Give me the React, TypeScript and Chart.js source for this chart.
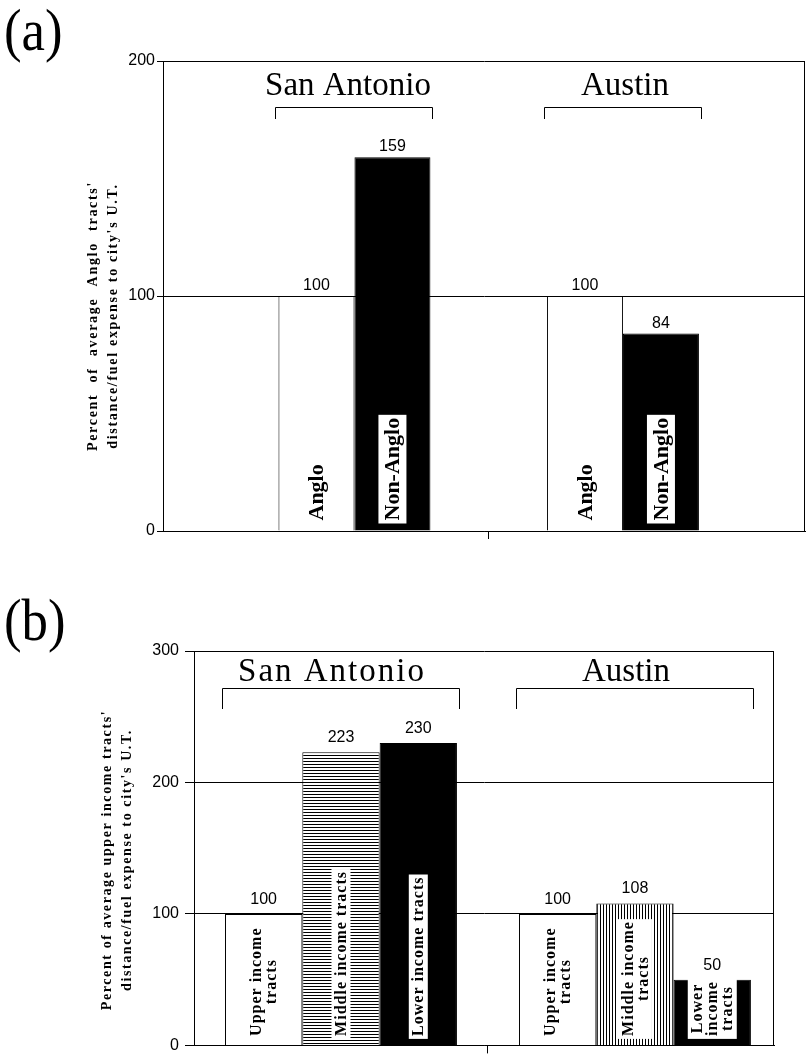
import React, { useEffect, useRef } from 'react';
import { Chart, registerables } from 'chart.js';

Chart.register(...registerables);

// ---------- Panel (a) data ----------
const citiesA = ['San Antonio', 'Austin'];
const seriesNamesA = ['Anglo', 'Non-Anglo'];
const angloValues = [100, 100];
const nonAngloValues = [159, 84];
const yTicksA = [0, 100, 200];
const yTitleA = ["Percent of average Anglo tracts'", "distance/fuel expense to city's U.T."];
const angloBarText = [['Anglo'], ['Anglo']];
const nonAngloBarText = [['Non-Anglo'], ['Non-Anglo']];

// ---------- Panel (b) data ----------
const citiesB = ['San Antonio', 'Austin'];
const seriesNamesB = ['Upper income tracts', 'Middle income tracts', 'Lower income tracts'];
const upperValues = [100, 100];
const middleValues = [223, 108];
const lowerValues = [230, 50];
const yTicksB = [0, 100, 200, 300];
const yTitleB = ["Percent of average upper income tracts'", "distance/fuel expense to city's U.T."];
const upperBarText = [['Upper income', 'tracts'], ['Upper income', 'tracts']];
const middleBarText = [['Middle income tracts'], ['Middle income', 'tracts']];
const lowerBarText = [['Lower income tracts'], ['Lower', 'income', 'tracts']];

const SERIF = '"Liberation Serif", "Times New Roman", serif';
const SANS = '"Liberation Sans", Arial, sans-serif';

function makePattern(horizontal: boolean): CanvasPattern | string {
  const c = document.createElement('canvas');
  c.width = 3;
  c.height = 3;
  const g = c.getContext('2d');
  if (!g) return '#888';
  g.fillStyle = '#fff';
  g.fillRect(0, 0, 3, 3);
  g.fillStyle = '#000';
  if (horizontal) g.fillRect(0, 0, 3, 1);
  else g.fillRect(0, 0, 1, 3);
  return g.createPattern(c, 'repeat') || '#888';
}

type BarTextSpec = { lines: string[][]; boxed: boolean };
type DecorCfg = {
  panel: string;
  panelBaseline: number;
  yTitle: string[];
  yTitleX: number[];
  yTitleCY: number;
  yTitleFont: string;
  yTitleSpacing: number[];
  yTitleWordSpacing: number[];
  cities: string[];
  cityFont: string;
  citySpacing: number[];
  cityDx: number[];
  cityBaseline: number;
  bracketTop: number;
  bracketBottom: number;
  valueFont: string;
  valueGap: number;
  barText: BarTextSpec[];
  barFont: string;
  barSpacing: number;
  barLineH: number;
  barGap: number;
};

function makeDecor(cfg: DecorCfg) {
  return {
    id: 'decor',
    afterDatasetsDraw(chart: any) {
      const ctx: CanvasRenderingContext2D = chart.ctx;
      const area = chart.chartArea;
      ctx.save();
      ctx.strokeStyle = '#000';
      ctx.fillStyle = '#000';
      ctx.lineWidth = 1;

      // right border of the plot frame
      const rx = Math.round(area.right) - 0.5;
      ctx.beginPath();
      ctx.moveTo(rx, area.top);
      ctx.lineTo(rx, area.bottom);
      ctx.stroke();

      // panel label
      ctx.save();
      ctx.translate(4, cfg.panelBaseline);
      ctx.scale(0.88, 1);
      ctx.font = `60px ${SERIF}`;
      ctx.textAlign = 'left';
      ctx.textBaseline = 'alphabetic';
      ctx.fillText(cfg.panel, 0, 0);
      ctx.restore();

      // y-axis title (two rotated lines)
      cfg.yTitle.forEach((line, i) => {
        ctx.save();
        ctx.font = cfg.yTitleFont;
        (ctx as any).letterSpacing = `${cfg.yTitleSpacing[i]}px`;
        (ctx as any).wordSpacing = `${cfg.yTitleWordSpacing[i]}px`;
        ctx.translate(cfg.yTitleX[i], cfg.yTitleCY);
        ctx.rotate(-Math.PI / 2);
        ctx.textAlign = 'center';
        ctx.textBaseline = 'middle';
        ctx.fillText(line, 0, 0);
        ctx.restore();
      });

      const metas = chart.data.datasets.map((_: any, d: number) => chart.getDatasetMeta(d));

      // city names with brackets
      cfg.cities.forEach((city, i) => {
        const first = metas[0].data[i];
        const last = metas[metas.length - 1].data[i];
        const l = Math.round(first.x - first.width / 2) - 3 + 0.5;
        const r = Math.round(last.x + last.width / 2) + 2 + 0.5;
        ctx.beginPath();
        ctx.moveTo(l, cfg.bracketBottom);
        ctx.lineTo(l, cfg.bracketTop);
        ctx.lineTo(r, cfg.bracketTop);
        ctx.lineTo(r, cfg.bracketBottom);
        ctx.stroke();
        ctx.save();
        ctx.font = cfg.cityFont;
        (ctx as any).letterSpacing = `${cfg.citySpacing[i]}px`;
        ctx.textAlign = 'center';
        ctx.textBaseline = 'alphabetic';
        ctx.fillText(city, (l + r) / 2 + cfg.citySpacing[i] / 2 + cfg.cityDx[i], cfg.cityBaseline);
        ctx.restore();
      });

      // value labels above bars
      ctx.font = cfg.valueFont;
      ctx.textAlign = 'center';
      ctx.textBaseline = 'alphabetic';
      metas.forEach((meta: any, d: number) => {
        meta.data.forEach((el: any, i: number) => {
          const v = chart.data.datasets[d].data[i].y;
          ctx.fillText(String(v), el.x, el.y - cfg.valueGap);
        });
      });

      // rotated labels inside bars
      metas.forEach((meta: any, d: number) => {
        const spec = cfg.barText[d];
        meta.data.forEach((el: any, i: number) => {
          const lines = spec.lines[i];
          ctx.save();
          ctx.font = cfg.barFont;
          (ctx as any).letterSpacing = `${cfg.barSpacing}px`;
          const maxW = Math.max(...lines.map((t) => ctx.measureText(t).width)) - cfg.barSpacing;
          const blockH = lines.length * cfg.barLineH;
          const cy = el.base - cfg.barGap - maxW / 2;
          ctx.translate(el.x, cy);
          ctx.rotate(-Math.PI / 2);
          if (spec.boxed) {
            ctx.fillStyle = '#fff';
            ctx.fillRect(-maxW / 2 - 3, -blockH / 2 - 2, maxW + 6, blockH + 4);
          }
          ctx.fillStyle = '#000';
          ctx.textAlign = 'center';
          ctx.textBaseline = 'middle';
          lines.forEach((t, k) => {
            ctx.fillText(t, cfg.barSpacing / 2, -blockH / 2 + cfg.barLineH * (k + 0.5) + 1);
          });
          ctx.restore();
        });
      });

      ctx.restore();
    },
  };
}

function toPoints(values: number[]) {
  return values.map((v, i) => ({ x: i, y: v }));
}

function makeChartA(canvas: HTMLCanvasElement) {
  const catPct = 0.566;
  const common = { borderColor: '#000', borderWidth: 1, barPercentage: 1, categoryPercentage: catPct };
  return new Chart(canvas, {
    type: 'bar',
    data: {
      datasets: [
        { label: seriesNamesA[0], data: toPoints(angloValues), backgroundColor: '#fff', ...common },
        { label: seriesNamesA[1], data: toPoints(nonAngloValues), backgroundColor: '#000', ...common },
      ] as any,
    },
    options: {
      responsive: false,
      animation: false,
      devicePixelRatio: 1,
      layout: { padding: { left: 0, right: 1, top: 61, bottom: 0 } },
      plugins: { legend: { display: false }, tooltip: { enabled: false } },
      scales: {
        x: {
          type: 'linear',
          offset: false,
          min: -0.713,
          max: 1.678,
          grid: { display: true, offset: false, drawOnChartArea: false, drawTicks: true, tickLength: 8, color: '#000' },
          border: { display: true, color: '#000', width: 1 },
          ticks: { display: false },
          afterBuildTicks: (s: any) => {
            s.ticks = [{ value: 0.5 }];
          },
          afterFit: (s: any) => {
            s.height = 29;
          },
        },
        y: {
          min: 0,
          max: 200,
          afterBuildTicks: (s: any) => {
            s.ticks = yTicksA.map((v) => ({ value: v }));
          },
          grid: { color: '#000', lineWidth: 1, tickLength: 6 },
          border: { display: true, color: '#000', width: 1 },
          ticks: { color: '#000', font: { family: SANS, size: 16 }, padding: 2 },
          afterFit: (s: any) => {
            s.width = 163;
          },
        },
      } as any,
    },
    plugins: [
      makeDecor({
        panel: '(a)',
        panelBaseline: 50,
        yTitle: yTitleA,
        yTitleX: [93, 113],
        yTitleCY: 316,
        yTitleFont: `bold 14px ${SERIF}`,
        yTitleSpacing: [1.7, 1.7],
        yTitleWordSpacing: [6, 0],
        cities: citiesA,
        cityFont: `33px ${SERIF}`,
        citySpacing: [0, 0],
        cityDx: [-6, 2],
        cityBaseline: 95,
        bracketTop: 107.5,
        bracketBottom: 119,
        valueFont: `16px ${SANS}`,
        valueGap: 6,
        barText: [
          { lines: angloBarText, boxed: false },
          { lines: nonAngloBarText, boxed: true },
        ],
        barFont: `bold 22px ${SERIF}`,
        barSpacing: 0,
        barLineH: 24,
        barGap: 10,
      }),
    ],
  });
}

function makeChartB(canvas: HTMLCanvasElement) {
  const catPct = 0.789;
  const common = { borderColor: '#000', borderWidth: 1, barPercentage: 1, categoryPercentage: catPct };
  const hPat = makePattern(true);
  const vPat = makePattern(false);
  return new Chart(canvas, {
    type: 'bar',
    data: {
      datasets: [
        { label: seriesNamesB[0], data: toPoints(upperValues), backgroundColor: '#fff', ...common },
        { label: seriesNamesB[1], data: toPoints(middleValues), backgroundColor: [hPat, vPat], ...common },
        { label: seriesNamesB[2], data: toPoints(lowerValues), backgroundColor: '#000', ...common },
      ] as any,
    },
    options: {
      responsive: false,
      animation: false,
      devicePixelRatio: 1,
      layout: { padding: { left: 0, right: 32, top: 91, bottom: 0 } },
      plugins: { legend: { display: false }, tooltip: { enabled: false } },
      scales: {
        x: {
          type: 'linear',
          offset: false,
          min: -0.5,
          max: 1.473,
          grid: { display: true, offset: false, drawOnChartArea: false, drawTicks: true, tickLength: 8, color: '#000' },
          border: { display: true, color: '#000', width: 1 },
          ticks: { display: false },
          afterBuildTicks: (s: any) => {
            s.ticks = [{ value: 0.5 }];
          },
          afterFit: (s: any) => {
            s.height = 3;
          },
        },
        y: {
          min: 0,
          max: 300,
          afterBuildTicks: (s: any) => {
            s.ticks = yTicksB.map((v) => ({ value: v }));
          },
          grid: { color: '#000', lineWidth: 1, tickLength: 9 },
          border: { display: true, color: '#000', width: 1 },
          ticks: { color: '#000', font: { family: SANS, size: 16 }, padding: 6 },
          afterFit: (s: any) => {
            s.width = 194;
          },
        },
      } as any,
    },
    plugins: [
      makeDecor({
        panel: '(b)',
        panelBaseline: 80,
        yTitle: yTitleB,
        yTitleX: [107, 127],
        yTitleCY: 300,
        yTitleFont: `bold 14px ${SERIF}`,
        yTitleSpacing: [1.6, 1.6],
        yTitleWordSpacing: [0, 0],
        cities: citiesB,
        cityFont: `33px ${SERIF}`,
        citySpacing: [2, 0],
        cityDx: [-10, -9],
        cityBaseline: 121,
        bracketTop: 128.5,
        bracketBottom: 149,
        valueFont: `16px ${SANS}`,
        valueGap: 10,
        barText: [
          { lines: upperBarText, boxed: false },
          { lines: middleBarText, boxed: true },
          { lines: lowerBarText, boxed: true },
        ],
        barFont: `bold 16px ${SERIF}`,
        barSpacing: 1,
        barLineH: 15,
        barGap: 9,
      }),
    ],
  });
}

export default function App() {
  const refA = useRef<HTMLCanvasElement>(null);
  const refB = useRef<HTMLCanvasElement>(null);
  useEffect(() => {
    document.body.style.margin = '0';
    const charts: Chart[] = [];
    if (refA.current) charts.push(makeChartA(refA.current));
    if (refB.current) charts.push(makeChartB(refB.current));
    return () => charts.forEach((c) => c.destroy());
  }, []);
  return (
    <div style={{ position: 'relative', width: 806, height: 1061, overflow: 'hidden', background: '#fff' }}>
      <canvas
        ref={refA}
        width={806}
        height={560}
        style={{ position: 'absolute', left: 0, top: 0, width: 806, height: 560 }}
      />
      <canvas
        ref={refB}
        width={806}
        height={501}
        style={{ position: 'absolute', left: 0, top: 560, width: 806, height: 501 }}
      />
    </div>
  );
}
